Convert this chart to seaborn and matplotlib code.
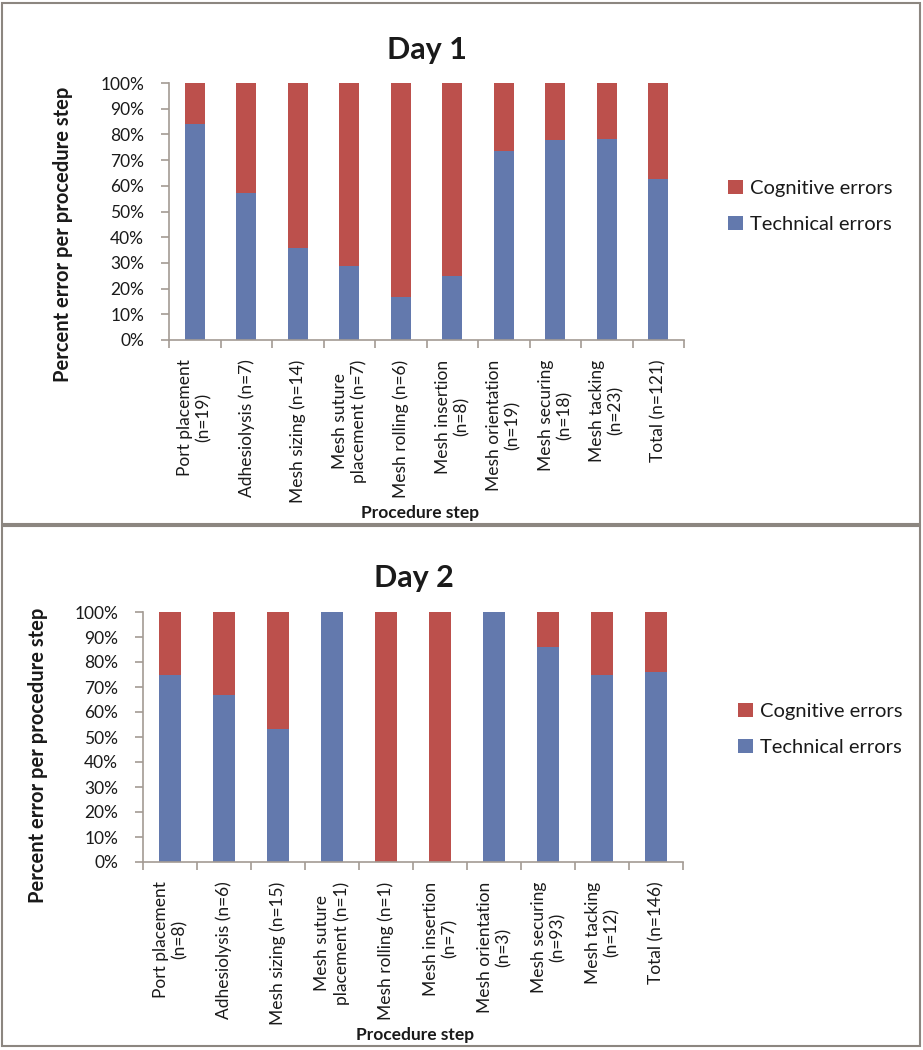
import numpy as np
import pandas as pd
import matplotlib
matplotlib.use("Agg")
import matplotlib.pyplot as plt
from matplotlib.patches import Patch, Rectangle
from matplotlib.ticker import PercentFormatter
import seaborn as sns

# --- data (percent of errors that were technical; the rest are cognitive) ---
steps_day1 = ["Port placement\n(n=19)", "Adhesiolysis (n=7)", "Mesh sizing (n=14)",
              "Mesh suture\nplacement (n=7)", "Mesh rolling (n=6)", "Mesh insertion\n(n=8)",
              "Mesh orientation\n(n=19)", "Mesh securing\n(n=18)", "Mesh tacking\n(n=23)",
              "Total (n=121)"]
technical_day1 = [84.2, 57.1, 35.7, 28.6, 16.7, 25.0, 73.7, 77.8, 78.3, 62.8]

steps_day2 = ["Port placement\n(n=8)", "Adhesiolysis (n=6)", "Mesh sizing (n=15)",
              "Mesh suture\nplacement (n=1)", "Mesh rolling (n=1)", "Mesh insertion\n(n=7)",
              "Mesh orientation\n(n=3)", "Mesh securing\n(n=93)", "Mesh tacking\n(n=12)",
              "Total (n=146)"]
technical_day2 = [75.0, 66.7, 53.3, 100.0, 0.0, 0.0, 100.0, 86.0, 75.0, 76.0]

series_labels = ["Cognitive errors", "Technical errors"]

RED = "#BC504C"
BLUE = "#6379AD"
AXIS_GRAY = "#A39B94"
TEXT = "#1A1A1A"

sns.set_theme(style="white")
plt.rcParams['font.family'] = ['Lato', 'DejaVu Sans']

W, H = 923, 1050
fig = plt.figure(figsize=(W / 100, H / 100), dpi=100)


def px_axes(left, top, right, bottom):
    return fig.add_axes([left / W, 1 - bottom / H, (right - left) / W, (bottom - top) / H])


def draw_panel(ax, steps, technical, title, title_xy, ylabel_xy, xlabel_xy, legend_xy):
    df = pd.DataFrame({"step": steps, "technical": technical})
    df["all"] = 100.0
    sns.barplot(data=df, x="step", y="all", color=RED, width=0.39, saturation=1,
                ax=ax, edgecolor="none")
    sns.barplot(data=df, x="step", y="technical", color=BLUE, width=0.39, saturation=1,
                ax=ax, edgecolor="none")

    ax.set_xlim(-0.5, len(steps) - 0.5)
    ax.set_ylim(0, 100)
    ax.set_yticks(np.arange(0, 101, 10))
    ax.yaxis.set_major_formatter(PercentFormatter(decimals=0))
    ax.set_xticks(range(len(steps)))
    ax.set_xticks(np.arange(-0.5, len(steps)), minor=True)
    ax.set_xticklabels(steps, rotation=90, ha="center", va="top", multialignment="center",
                       linespacing=1.2, fontsize=12.5, color=TEXT)
    ax.tick_params(axis="x", which="major", length=0, pad=14)
    ax.tick_params(axis="x", which="minor", length=6, width=1.2, color=AXIS_GRAY,
                   direction="out", bottom=True)
    ax.tick_params(axis="y", length=6, width=1.2, color=AXIS_GRAY, direction="out",
                   left=True, labelsize=12.5, labelcolor=TEXT, pad=12)
    for side in ["top", "right"]:
        ax.spines[side].set_visible(False)
    for side in ["left", "bottom"]:
        ax.spines[side].set_color(AXIS_GRAY)
        ax.spines[side].set_linewidth(1.2)

    ax.text(title_xy[0], title_xy[1], title, transform=ax.transAxes, ha="center",
            va="center", fontsize=22, fontweight="bold", color=TEXT)
    ax.set_ylabel("Percent error per procedure step", fontsize=14.5, fontweight="bold", color=TEXT)
    ax.yaxis.set_label_coords(*ylabel_xy)
    ax.yaxis.label.set_va("center")
    ax.set_xlabel("Procedure step", fontsize=12.5, fontweight="bold", color=TEXT)
    ax.xaxis.set_label_coords(*xlabel_xy)
    ax.xaxis.label.set_va("center")

    handles = [Patch(facecolor=RED, edgecolor="none"), Patch(facecolor=BLUE, edgecolor="none")]
    ax.legend(handles, series_labels, loc="upper left", bbox_to_anchor=legend_xy,
              bbox_transform=fig.transFigure, frameon=False, borderpad=0,
              handlelength=0.75, handleheight=0.7, handletextpad=0.35,
              labelspacing=0.95, fontsize=14.5, labelcolor=TEXT)


ax1 = px_axes(169, 83, 684, 340)
draw_panel(ax1, steps_day1, technical_day1, "Day 1",
           title_xy=(0.501, 1.128), ylabel_xy=(-0.206, 0.41), xlabel_xy=(0.487, -0.673),
           legend_xy=(718 / W, 1 - 170 / H))

ax2 = px_axes(143, 612, 683, 862)
draw_panel(ax2, steps_day2, technical_day2, "Day 2",
           title_xy=(0.502, 1.136), ylabel_xy=(-0.195, 0.425), xlabel_xy=(0.504, -0.692),
           legend_xy=(728 / W, 1 - 693 / H))

# panel frames
for top, bottom in [(3, 524), (526, 1046)]:
    fig.add_artist(Rectangle((2 / W, 1 - bottom / H), 918 / W, (bottom - top) / H,
                             transform=fig.transFigure, fill=False,
                             edgecolor="#8C8680", linewidth=1.5))

fig.savefig("out.png", dpi=100)
